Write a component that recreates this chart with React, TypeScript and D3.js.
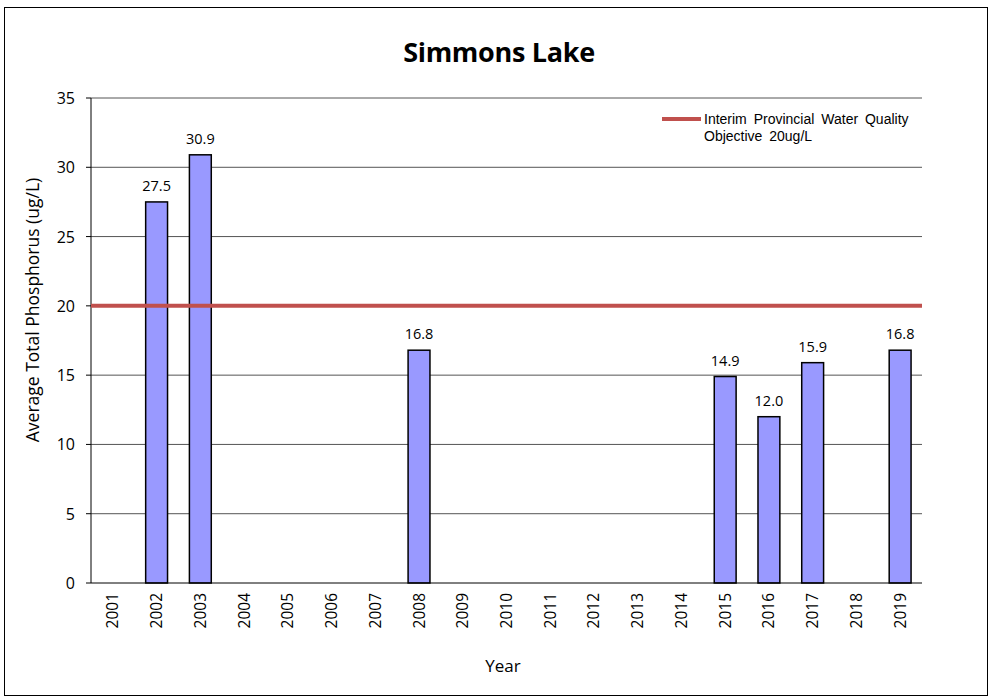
import React from "react";
import * as d3 from "d3";

const years = ["2001","2002","2003","2004","2005","2006","2007","2008","2009","2010","2011","2012","2013","2014","2015","2016","2017","2018","2019"];
const values: (number | null)[] = [null,27.5,30.9,null,null,null,null,16.8,null,null,null,null,null,null,14.9,12.0,15.9,null,16.8];
const yTicks = [0,5,10,15,20,25,30,35];
const objective = 20;
const title = "Simmons Lake";
const legendLines = ["Interim Provincial Water Quality", "Objective 20ug/L"];

export default function App() {
  const W = 990, H = 698;
  const left = 91, right = 922, top = 98, bottom = 583;
  const x = d3.scaleBand<string>().domain(years).range([left, right]).paddingInner(0.5).paddingOuter(0.25);
  const y = d3.scaleLinear().domain([0, 35]).range([bottom, top]);
  const labelFont = "Open Sans, sans-serif";
  return (
    <svg width={W} height={H} style={{ position: "absolute", left: 0, top: 0 }}>
      <rect x={0} y={0} width={W} height={H} fill="#fff" />
      <rect x={4.5} y={7.5} width={983} height={688} fill="none" stroke="#000" strokeWidth={1} />
      <text x={499} y={62} textAnchor="middle" fontFamily={labelFont} fontWeight="bold" fontSize={27} style={{ letterSpacing: "-0.3px" }}>{title}</text>
      {yTicks.map(t => (
        <g key={t}>
          {t > 0 && <line x1={left} x2={right} y1={y(t)} y2={y(t)} stroke="#555" strokeWidth={1} />}
          <line x1={left - 5} x2={left} y1={y(t)} y2={y(t)} stroke="#000" />
          <text x={75} y={y(t) + 6} textAnchor="end" fontFamily={labelFont} fontSize={16}>{t}</text>
        </g>
      ))}
      <line x1={left} x2={left} y1={top} y2={bottom} stroke="#000" />
      {years.map((yr, i) => {
        const v = values[i];
        const cx = x(yr)! + x.bandwidth() / 2;
        return (
          <g key={yr}>
            {v !== null && (
              <>
                <rect x={x(yr)} y={y(v)} width={x.bandwidth()} height={bottom - y(v)} fill="#9999ff" stroke="#000" strokeWidth={1.5} />
                <text x={cx} y={y(v) - 11} textAnchor="middle" fontFamily={labelFont} fontSize={14.5}>{v.toFixed(1)}</text>
              </>
            )}
            <text transform={`translate(${cx + 5.5},${593}) rotate(-90)`} textAnchor="end" fontFamily={labelFont} fontSize={15.5}>{yr}</text>
          </g>
        );
      })}
      <line x1={left} x2={right} y1={bottom} y2={bottom} stroke="#000" />
      <line x1={left} x2={right} y1={y(objective)} y2={y(objective)} stroke="#c0504d" strokeWidth={4} />
      <line x1={662} x2={701} y1={119} y2={119} stroke="#c0504d" strokeWidth={4} />
      {legendLines.map((l, i) => (
        <text key={i} x={704} y={124 + i * 17} fontFamily="Liberation Sans, Arial, sans-serif" fontSize={14} style={{ wordSpacing: "3px" }}>{l}</text>
      ))}
      <text transform={`translate(39,310) rotate(-90)`} textAnchor="middle" fontFamily={labelFont} fontSize={17.5}>Average Total Phosphorus (ug/L)</text>
      <text x={503} y={672} textAnchor="middle" fontFamily={labelFont} fontSize={17}>Year</text>
    </svg>
  );
}
